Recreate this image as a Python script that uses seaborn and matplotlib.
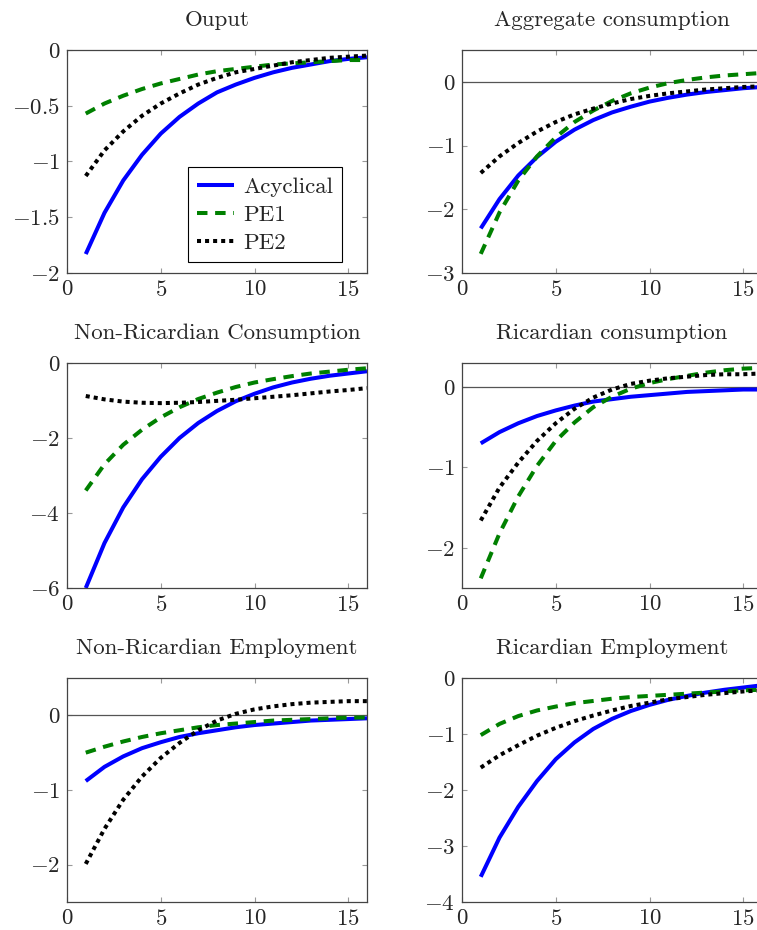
import matplotlib
matplotlib.use("Agg")
import matplotlib.pyplot as plt
import seaborn as sns
import pandas as pd

periods = list(range(1, 17))
series_names = ["Acyclical", "PE1", "PE2"]

titles = ["Ouput", "Aggregate consumption",
          "Non-Ricardian Consumption", "Ricardian consumption",
          "Non-Ricardian Employment", "Ricardian Employment"]

output_acyc = [-1.83, -1.46, -1.17, -0.94, -0.75, -0.60, -0.48, -0.38, -0.31, -0.25, -0.20, -0.16, -0.13, -0.10, -0.08, -0.065]
output_pe1 = [-0.57, -0.48, -0.41, -0.35, -0.30, -0.26, -0.22, -0.19, -0.17, -0.15, -0.13, -0.12, -0.11, -0.10, -0.09, -0.09]
output_pe2 = [-1.13, -0.90, -0.73, -0.59, -0.48, -0.39, -0.31, -0.25, -0.20, -0.17, -0.14, -0.11, -0.09, -0.07, -0.06, -0.05]

aggc_acyc = [-2.30, -1.84, -1.47, -1.18, -0.94, -0.75, -0.60, -0.48, -0.39, -0.31, -0.25, -0.20, -0.16, -0.13, -0.10, -0.08]
aggc_pe1 = [-2.70, -2.05, -1.55, -1.17, -0.87, -0.63, -0.45, -0.30, -0.18, -0.09, -0.02, 0.03, 0.07, 0.10, 0.12, 0.14]
aggc_pe2 = [-1.43, -1.17, -0.96, -0.78, -0.63, -0.51, -0.42, -0.34, -0.27, -0.22, -0.18, -0.15, -0.12, -0.10, -0.08, -0.07]

nrc_acyc = [-6.0, -4.8, -3.85, -3.1, -2.5, -2.0, -1.6, -1.28, -1.02, -0.82, -0.65, -0.52, -0.42, -0.34, -0.28, -0.22]
nrc_pe1 = [-3.40, -2.70, -2.18, -1.78, -1.45, -1.18, -0.96, -0.79, -0.64, -0.52, -0.43, -0.35, -0.28, -0.23, -0.18, -0.14]
nrc_pe2 = [-0.88, -0.97, -1.03, -1.06, -1.07, -1.06, -1.04, -1.01, -0.98, -0.94, -0.90, -0.86, -0.81, -0.76, -0.72, -0.67]

rc_acyc = [-0.70, -0.56, -0.45, -0.36, -0.29, -0.23, -0.18, -0.15, -0.12, -0.10, -0.08, -0.06, -0.05, -0.04, -0.03, -0.03]
rc_pe1 = [-2.38, -1.82, -1.36, -0.98, -0.67, -0.44, -0.25, -0.12, -0.02, 0.05, 0.10, 0.14, 0.18, 0.21, 0.23, 0.24]
rc_pe2 = [-1.66, -1.25, -0.94, -0.67, -0.45, -0.27, -0.13, -0.03, 0.04, 0.08, 0.11, 0.13, 0.15, 0.16, 0.16, 0.17]

nre_acyc = [-0.88, -0.69, -0.55, -0.44, -0.36, -0.29, -0.24, -0.20, -0.16, -0.13, -0.11, -0.09, -0.07, -0.06, -0.05, -0.04]
nre_pe1 = [-0.50, -0.42, -0.35, -0.29, -0.24, -0.20, -0.16, -0.13, -0.11, -0.09, -0.07, -0.06, -0.05, -0.04, -0.03, -0.03]
nre_pe2 = [-1.99, -1.52, -1.13, -0.82, -0.57, -0.37, -0.20, -0.07, 0.02, 0.08, 0.12, 0.15, 0.17, 0.18, 0.19, 0.19]

re_acyc = [-3.55, -2.85, -2.30, -1.84, -1.45, -1.15, -0.91, -0.73, -0.59, -0.48, -0.39, -0.32, -0.26, -0.21, -0.17, -0.13]
re_pe1 = [-1.02, -0.82, -0.68, -0.58, -0.51, -0.45, -0.41, -0.37, -0.34, -0.32, -0.30, -0.28, -0.26, -0.24, -0.22, -0.21]
re_pe2 = [-1.60, -1.38, -1.20, -1.03, -0.89, -0.77, -0.67, -0.58, -0.50, -0.44, -0.38, -0.34, -0.30, -0.27, -0.24, -0.22]

panel_data = [
    (output_acyc, output_pe1, output_pe2),
    (aggc_acyc, aggc_pe1, aggc_pe2),
    (nrc_acyc, nrc_pe1, nrc_pe2),
    (rc_acyc, rc_pe1, rc_pe2),
    (nre_acyc, nre_pe1, nre_pe2),
    (re_acyc, re_pe1, re_pe2),
]

ylims = [(-2, 0), (-3, 0.5), (-6, 0), (-2.5, 0.3), (-2.5, 0.5), (-4, 0)]
yticks = [[-2, -1.5, -1, -0.5, 0], [-3, -2, -1, 0], [-6, -4, -2, 0],
          [-2, -1, 0], [-2, -1, 0], [-4, -3, -2, -1, 0]]
xticks = [0, 5, 10, 15]

sns.set_style("ticks")
plt.rcParams["font.family"] = ["cmr10", "DejaVu Serif"]
plt.rcParams["mathtext.fontset"] = "cm"
plt.rcParams["axes.unicode_minus"] = False

colors = {"Acyclical": "#0000ff", "PE1": "#008000", "PE2": "#000000"}
styles = {"Acyclical": "-", "PE1": (0, (2.6, 1.9)), "PE2": (0, (1, 1))}

FS = 16.5

fig = plt.figure(figsize=(7.57, 9.30), dpi=100)
W, H = 757, 930
col_x = [67, 462]
row_tb = [(50, 273), (363, 588), (678, 902)]
aw = 300


def fmt(v):
    s = ("%g" % v)
    return "$" + s + "$"


for i, (title, data) in enumerate(zip(titles, panel_data)):
    r, c = divmod(i, 2)
    top, bot = row_tb[r]
    ax = fig.add_axes([col_x[c] / W, 1 - bot / H, aw / W, (bot - top) / H])
    df = pd.DataFrame({
        "t": periods * 3,
        "value": list(data[0]) + list(data[1]) + list(data[2]),
        "series": sum([[n] * len(periods) for n in series_names], []),
    })
    for name in series_names:
        sub = df[df["series"] == name]
        sns.lineplot(data=sub, x="t", y="value", ax=ax, color=colors[name],
                     linestyle=styles[name], linewidth=2.9, label=name,
                     legend=False, solid_capstyle="butt", dash_capstyle="butt")
    lo, hi = ylims[i]
    if hi > 0:
        ax.axhline(0, color="#555555", linewidth=0.9, zorder=1)
    ax.set_xlim(0, 16)
    ax.set_ylim(lo, hi)
    ax.set_xticks(xticks)
    ax.set_xticklabels([fmt(v) for v in xticks])
    ax.set_yticks(yticks[i])
    ax.set_yticklabels([fmt(v) for v in yticks[i]])
    ax.set_xlabel("")
    ax.set_ylabel("")
    ax.set_title(title, fontsize=FS, pad=17.5)
    ax.tick_params(direction="in", top=True, right=True, length=3.5,
                   width=0.8, color="#999999", labelsize=FS, pad=5)
    for sp in ax.spines.values():
        sp.set_color("#444444")
        sp.set_linewidth(0.9)
    if i == 0:
        leg = ax.legend(loc="lower right", bbox_to_anchor=(0.917, 0.05),
                        fontsize=FS, frameon=True, fancybox=False,
                        edgecolor="black", framealpha=1, handlelength=1.6,
                        handletextpad=0.4, labelspacing=0.35, borderpad=0.4,
                        borderaxespad=0)
        leg.get_frame().set_linewidth(0.8)

fig.savefig("out.png", dpi=100)
